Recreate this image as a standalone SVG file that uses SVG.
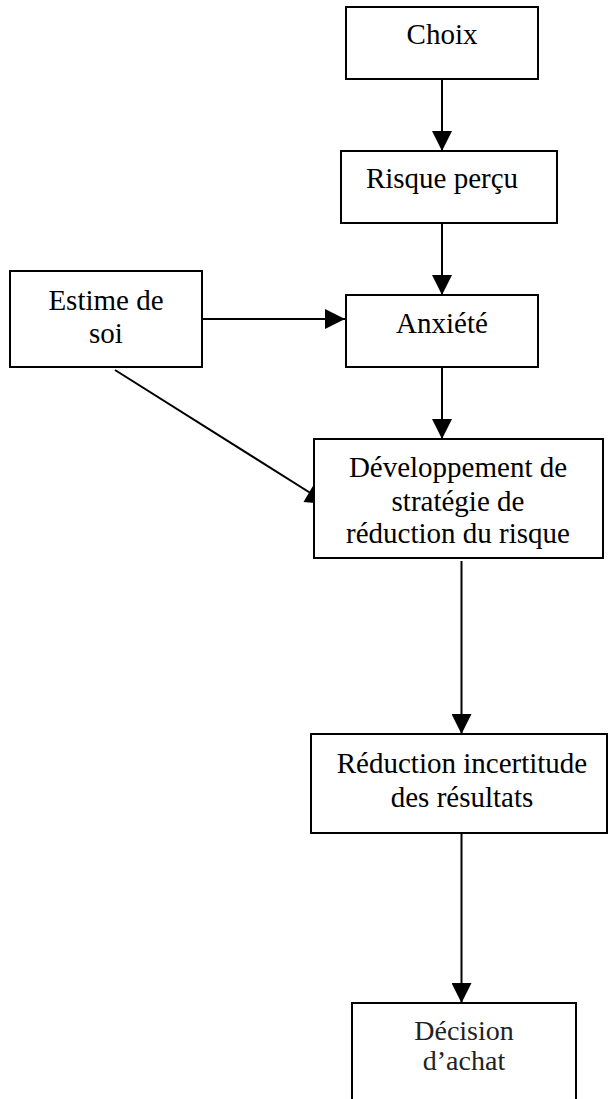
<svg xmlns="http://www.w3.org/2000/svg" width="608" height="1099" viewBox="0 0 608 1099">
  <defs>
    <style>
      .box { fill: #ffffff; stroke: #000000; stroke-width: 2; }
      .lbl { font-family: "Liberation Serif", "Times New Roman", serif; font-size: 29px; fill: #000000; text-anchor: middle; }
      .lbl2 { font-family: "Liberation Serif", "Times New Roman", serif; font-size: 28px; fill: #222222; text-anchor: middle; }
      .edge { stroke: #000000; stroke-width: 2; fill: none; }
      .head { fill: #000000; stroke: none; }
    </style>
    <marker id="arrow" viewBox="0 0 20 20" refX="20" refY="10" markerWidth="20" markerHeight="20" markerUnits="userSpaceOnUse" orient="auto">
      <path d="M0,0 L20,10 L0,20 Z" class="head"/>
    </marker>
  </defs>
  <rect width="608" height="1099" fill="#ffffff"/>

  <g id="connectors">
    <line class="edge" x1="442" y1="79" x2="442" y2="151" marker-end="url(#arrow)"/>
    <line class="edge" x1="442" y1="223" x2="442" y2="295" marker-end="url(#arrow)"/>
    <line class="edge" x1="202" y1="319" x2="345" y2="319" marker-end="url(#arrow)"/>
    <line class="edge" x1="442" y1="367" x2="442" y2="439" marker-end="url(#arrow)"/>
    <!-- diagonal link from self-esteem to strategy box -->
    <line class="edge" x1="115" y1="370" x2="312" y2="494"/>
    <polygon class="head" points="313.5,485 303.5,502 326,504"/>
    <line class="edge" x1="461.5" y1="561" x2="461.5" y2="734" marker-end="url(#arrow)"/>
    <line class="edge" x1="461.5" y1="833" x2="461.5" y2="1003" marker-end="url(#arrow)"/>
  </g>

  <g id="choix">
    <rect class="box" x="346" y="7" width="192" height="72"/>
    <text class="lbl" x="442" y="44">Choix</text>
  </g>

  <g id="risque-percu">
    <rect class="box" x="341" y="151" width="216" height="72"/>
    <text class="lbl" x="442" y="188">Risque perçu</text>
  </g>

  <g id="estime-de-soi">
    <rect class="box" x="10" y="271" width="192" height="96"/>
    <text class="lbl" x="106" y="310">Estime de</text>
    <text class="lbl" x="106" y="343">soi</text>
  </g>

  <g id="anxiete">
    <rect class="box" x="346" y="295" width="192" height="72"/>
    <text class="lbl" x="442" y="333">Anxiété</text>
  </g>

  <g id="developpement">
    <rect class="box" x="314" y="439" width="289" height="119"/>
    <text class="lbl" x="458" y="477">Développement de</text>
    <text class="lbl" x="458" y="511">stratégie de</text>
    <text class="lbl" x="458" y="543">réduction du risque</text>
  </g>

  <g id="reduction-incertitude">
    <rect class="box" x="311" y="734" width="296" height="99"/>
    <text class="lbl" x="462" y="773">Réduction incertitude</text>
    <text class="lbl" x="462" y="807">des résultats</text>
  </g>

  <g id="decision-achat">
    <rect class="box" x="352" y="1003" width="224" height="110"/>
    <text class="lbl2" x="464" y="1040">Décision</text>
    <text class="lbl2" x="464" y="1070">d’achat</text>
  </g>
</svg>
